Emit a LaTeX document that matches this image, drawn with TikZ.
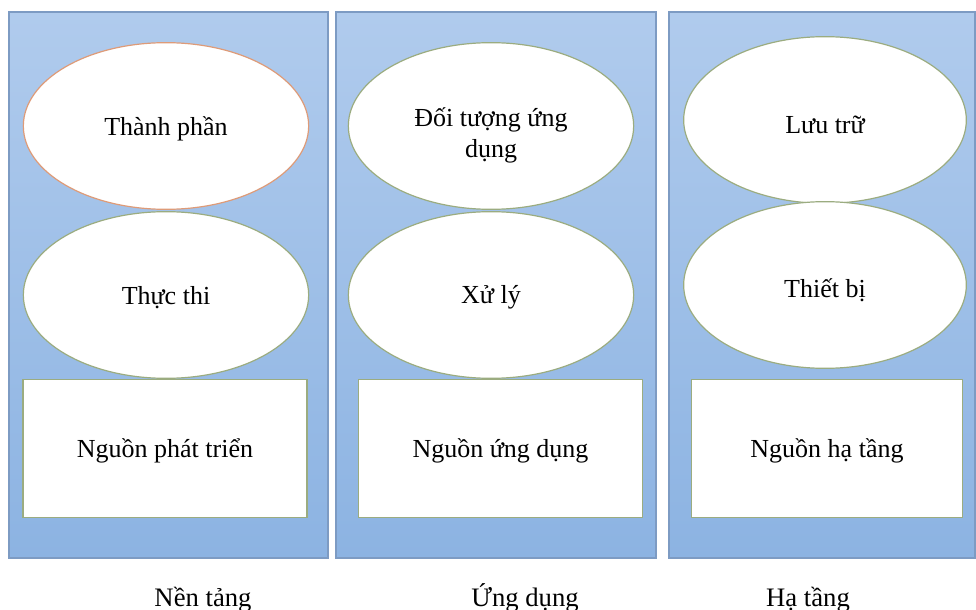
\documentclass[tikz,border=0pt]{standalone}
\usepackage{fontspec}
\setmainfont{Liberation Serif}
\usetikzlibrary{shapes.geometric}
\definecolor{paneltop}{RGB}{176,203,237}
\definecolor{panelbot}{RGB}{140,179,226}
\definecolor{panelline}{RGB}{125,155,195}
\definecolor{greenline}{RGB}{155,172,128}
\definecolor{orangeline}{RGB}{222,155,120}
% lower the printed text without moving the shape around it
\newcommand{\lowertext}[2]{\raisebox{-#1}[\height][\depth]{#2}}
\tikzset{
  panel/.style={draw=panelline, line width=0.8pt, top color=paneltop, bottom color=panelbot},
  oval/.style={ellipse, draw=greenline, line width=0.9pt, fill=white, inner sep=0pt,
    minimum width=214pt, minimum height=125pt, align=center, font=\fontsize{19.5}{24}\selectfont},
  box/.style={rectangle, draw=greenline, line width=0.9pt, fill=white, inner sep=0pt,
    minimum width=213pt, minimum height=104pt, font=\fontsize{19.5}{24}\selectfont},
  caption/.style={font=\fontsize{20}{24}\selectfont, anchor=base}
}
\begin{document}
\begin{tikzpicture}[x=0.75pt,y=-0.75pt]
\useasboundingbox (0,0) rectangle (976,610);
% three column panels
\path[panel] (9,12) rectangle (328,558);
\path[panel] (336,12) rectangle (656,558);
\path[panel] (669,12) rectangle (975,558);
% first column
\node[oval, draw=orangeline] (thanhphan) at (166,126) {\lowertext{2pt}{Thành phần}};
\node[oval] (thucthi) at (166,295) {\lowertext{2pt}{Thực thi}};
\node[box] (nguonpt) at (165,448.5) {\lowertext{2pt}{Nguồn phát triển}};
% second column
\node[oval] (doituong) at (491,126) {\lowertext{7pt}{\begin{tabular}{@{}c@{}}Đối tượng ứng\\[-1pt]dụng\end{tabular}}};
\node[oval] (xuly) at (491,295) {\lowertext{2pt}{Xử lý}};
\node[box] (nguonud) at (500.5,448.5) {\lowertext{2pt}{Nguồn ứng dụng}};
% third column
\node[oval, minimum width=212pt] (luutru) at (825,120) {\lowertext{4pt}{Lưu trữ}};
\node[oval, minimum width=212pt] (thietbi) at (825,285) {\lowertext{4pt}{Thiết bị}};
\node[box, minimum width=203pt] (nguonht) at (827,448.5) {\lowertext{2pt}{Nguồn hạ tầng}};
% column captions
\node[caption] (nentang) at (203,606) {Nền tảng};
\node[caption] (ungdung) at (525,606) {Ứng dụng};
\node[caption] (hatang) at (808,606) {Hạ tầng};
\end{tikzpicture}
\end{document}
